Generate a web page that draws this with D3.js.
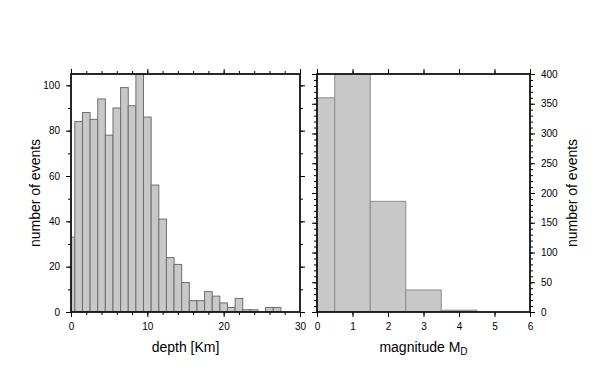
<!DOCTYPE html>
<html><head><meta charset="utf-8">
<script src="https://cdn.jsdelivr.net/npm/d3@7"></script>
<style>body{margin:0;background:#fff}svg{display:block;font-family:"Liberation Sans",Arial,sans-serif}</style>
</head><body>
<svg id="c" width="602" height="383"></svg>
<script>
// Depth histogram (1 km bins centred on integers)
const depthCenters = [0,1,2,3,4,5,6,7,8,9,10,11,12,13,14,15,16,17,18,19,20,21,22,23,24,25,26,27];
const depthCounts  = [33,84,88,85,94,78,90,99,91,106,86,56,41,24,21,13,5,5,9,7,4,2,6,1,1,0,2,2];
const depthTicks = [0,10,20,30];
const depthCountTicks = [0,20,40,60,80,100];
// Magnitude histogram (1 unit bins centred on integers)
const magCenters = [0,1,2,3,4];
const magCounts  = [360,402,186,37,3];
const magTicks = [0,1,2,3,4,5,6];
const magCountTicks = [0,50,100,150,200,250,300,350,400];

const svg = d3.select("#c");
const plotTop = 74, plotBottom = 312;

function panel(opts){
  const x = d3.scaleLinear().domain(opts.xd).range([opts.x0, opts.x1]);
  const y = d3.scaleLinear().domain(opts.yd).range([plotBottom, plotTop]);
  const id = "clip"+opts.name;
  svg.append("clipPath").attr("id", id).append("rect")
    .attr("x", opts.x0).attr("y", plotTop).attr("width", opts.x1-opts.x0).attr("height", plotBottom-plotTop);
  const g = svg.append("g").attr("clip-path", `url(#${id})`);
  g.selectAll("rect").data(opts.centers).join("rect")
    .attr("x", d => x(d-0.5)).attr("width", d => x(d+0.5)-x(d-0.5))
    .attr("y", (d,i) => y(opts.counts[i])).attr("height", (d,i) => y(0)-y(opts.counts[i]))
    .attr("fill", "#c8c8c8").attr("stroke", opts.barStroke).attr("stroke-width", 1)
    .style("display", (d,i) => opts.counts[i] > 0 ? null : "none");

  const style = sel => { sel.select(".domain").remove(); sel.selectAll("line").attr("stroke","#000");
    sel.selectAll("text").attr("font-size", 10).attr("font-family","Liberation Sans, Arial, sans-serif").attr("fill","#000"); };
  svg.append("g").attr("transform", `translate(0,${plotBottom})`)
    .call(d3.axisBottom(x).tickValues(opts.xTicks).tickSize(5).tickPadding(6).tickFormat(d3.format("d"))).call(style);
  svg.append("g").attr("transform", `translate(0,${plotBottom})`)
    .call(d3.axisBottom(x).ticks(opts.xMinorN).tickSize(3).tickFormat("")).call(style);
  svg.append("g").attr("transform", `translate(0,${plotTop})`)
    .call(d3.axisTop(x).ticks(opts.xMinorN).tickSize(3).tickFormat("")).call(style);
  svg.append("g").attr("transform", `translate(0,${plotTop})`)
    .call(d3.axisTop(x).tickValues(opts.xTicks).tickSize(5).tickFormat("")).call(style);
  const yMinor = d3.range(opts.yd[0], opts.yd[1]+0.001, opts.yMinorStep);
  svg.append("g").attr("transform", `translate(${opts.x0},0)`)
    .call(d3.axisLeft(y).tickValues(yMinor).tickSize(3).tickFormat("")).call(style);
  svg.append("g").attr("transform", `translate(${opts.x1},0)`)
    .call(d3.axisRight(y).tickValues(yMinor).tickSize(3).tickFormat("")).call(style);
  const lab = opts.labelSide === "left";
  svg.append("g").attr("transform", `translate(${opts.x0},0)`)
    .call(d3.axisLeft(y).tickValues(opts.yTicks).tickSize(5).tickPadding(6).tickFormat(lab ? d3.format("d") : "")).call(style);
  svg.append("g").attr("transform", `translate(${opts.x1},0)`)
    .call(d3.axisRight(y).tickValues(opts.yTicks).tickSize(5).tickPadding(6).tickFormat(lab ? "" : d3.format("d"))).call(style);

  svg.append("rect").attr("x", opts.x0).attr("y", plotTop).attr("width", opts.x1-opts.x0).attr("height", plotBottom-plotTop)
    .attr("fill","none").attr("stroke","#111").attr("stroke-width",1.8);
  return {x,y};
}

panel({name:"d", xd:[0,30], yd:[0,105], x0:71, x1:300, centers:depthCenters, counts:depthCounts,
  xTicks:depthTicks, xMinorN:15, yTicks:depthCountTicks, yMinorStep:10, labelSide:"left", barStroke:"#6e6e6e"});
panel({name:"m", xd:[0,6], yd:[0,400], x0:317, x1:530, centers:magCenters, counts:magCounts,
  xTicks:magTicks, xMinorN:6, yTicks:magCountTicks, yMinorStep:10, labelSide:"right", barStroke:"#8c8c8c"});

svg.append("text").attr("x",185.5).attr("y",352).attr("text-anchor","middle").attr("font-size",14).text("depth [Km]");
const mt = svg.append("text").attr("x",423.5).attr("y",352).attr("text-anchor","middle").attr("font-size",14);
mt.append("tspan").text("magnitude M");
mt.append("tspan").attr("font-size",10).attr("dy",3).text("D");
svg.append("text").attr("transform","translate(40,193) rotate(-90)").attr("text-anchor","middle").attr("font-size",14).text("number of events");
svg.append("text").attr("transform","translate(577,193) rotate(-90)").attr("text-anchor","middle").attr("font-size",14).text("number of events");
</script>
</body></html>
